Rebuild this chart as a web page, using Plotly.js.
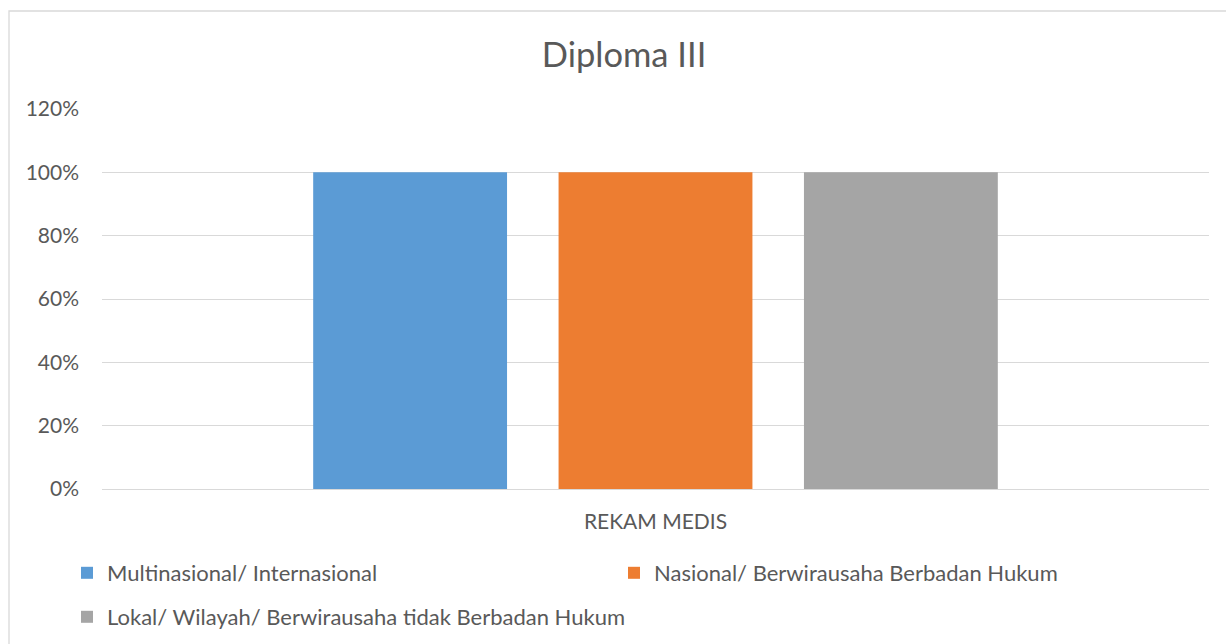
<!DOCTYPE html>
<html>
<head>
<meta charset="utf-8">
<script src="https://cdn.plot.ly/plotly-3.0.1.min.js"></script>
<style>
  html, body { margin: 0; padding: 0; background: #ffffff; }
  #chart { width: 1226px; height: 644px; }
</style>
</head>
<body>
<div id="chart"></div>
<script>
const categories = ["REKAM MEDIS"];
const seriesNames = [
  "Multinasional/ Internasional",
  "Nasional/ Berwirausaha Berbadan Hukum",
  "Lokal/ Wilayah/ Berwirausaha tidak Berbadan Hukum"
];
const multinasional = [1.0];
const nasional = [1.0];
const lokal = [1.0];
const yTickValues = [0, 0.2, 0.4, 0.6, 0.8, 1.0, 1.2];
const yTickLabels = ["0%", "20%", "40%", "60%", "80%", "100%", "120%"];

const colors = ["#5B9BD5", "#ED7D31", "#A5A5A5"];
const textColor = "#595959";
const fontFamily = "Lato, 'Open Sans', sans-serif";

const traces = [
  { type: "bar", x: categories, y: multinasional, name: seriesNames[0],
    marker: { color: colors[0] }, legend: "legend", hoverinfo: "y+name" },
  { type: "bar", x: categories, y: nasional, name: seriesNames[1],
    marker: { color: colors[1] }, legend: "legend2", hoverinfo: "y+name" },
  { type: "bar", x: categories, y: lokal, name: seriesNames[2],
    marker: { color: colors[2] }, legend: "legend3", hoverinfo: "y+name" }
];

const legendBase = {
  orientation: "h",
  bgcolor: "rgba(0,0,0,0)",
  font: { family: fontFamily, size: 22, color: textColor },
  xanchor: "left",
  yanchor: "middle"
};

const layout = {
  width: 1226,
  height: 644,
  paper_bgcolor: "#ffffff",
  plot_bgcolor: "#ffffff",
  font: { family: fontFamily, color: textColor },
  margin: { l: 102, r: 17, t: 109, b: 155, autoexpand: false },
  title: {
    text: "Diploma III",
    font: { family: fontFamily, size: 34.5, color: textColor },
    xref: "container", x: 0.509, xanchor: "center",
    yref: "container", y: 1 - 55 / 644, yanchor: "middle"
  },
  barmode: "group",
  bargap: 0.335,
  bargroupgap: 0.21,
  xaxis: {
    type: "category",
    automargin: false,
    showgrid: false,
    showline: false,
    zeroline: false,
    ticks: "",
    ticklabelstandoff: 18,
    tickfont: { family: fontFamily, size: 21, color: textColor }
  },
  yaxis: {
    range: [0, 1.2],
    automargin: false,
    tickvals: yTickValues,
    ticktext: yTickLabels,
    showgrid: true,
    gridcolor: "#D9D9D9",
    gridwidth: 1.3,
    zeroline: true,
    zerolinecolor: "#D9D9D9",
    zerolinewidth: 1.3,
    showline: false,
    ticks: "",
    ticklabelstandoff: 22,
    tickfont: { family: fontFamily, size: 21, color: textColor }
  },
  showlegend: true,
  legend: Object.assign({}, legendBase, { x: (67 - 102) / 1107, y: (489 - 573) / 380 }),
  legend2: Object.assign({}, legendBase, { x: (614 - 102) / 1107, y: (489 - 573) / 380 }),
  legend3: Object.assign({}, legendBase, { x: (67 - 102) / 1107, y: (489 - 617) / 380 }),
  shapes: [
    {
      type: "path", xref: "paper", yref: "paper",
      path: "M " + ((9 - 102) / 1107) + " " + ((489 - 700) / 380) +
            " L " + ((9 - 102) / 1107) + " " + ((489 - 11) / 380) +
            " L " + ((1300 - 102) / 1107) + " " + ((489 - 11) / 380),
      line: { color: "#D9D9D9", width: 1.3 },
      layer: "below"
    }
  ]
};

Plotly.newPlot("chart", traces, layout, { displayModeBar: false, responsive: false });
</script>
</body>
</html>
